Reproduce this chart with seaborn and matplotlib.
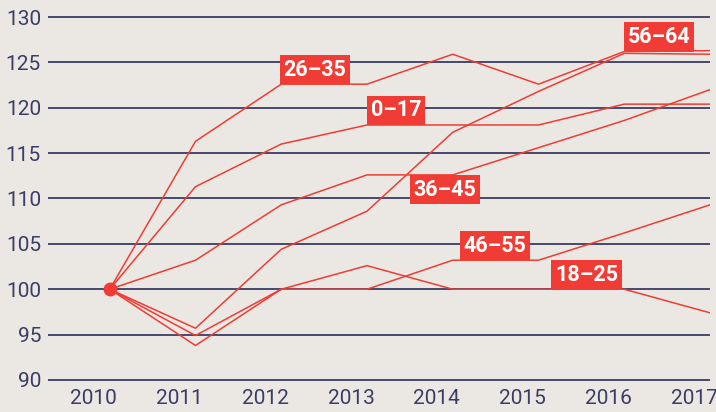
import numpy as np
import matplotlib
matplotlib.use("Agg")
import matplotlib.pyplot as plt
import matplotlib.transforms as mtransforms
import pandas as pd
import seaborn as sns

years = [2010, 2011, 2012, 2013, 2014, 2015, 2016, 2017]
g_0_17 = [100, 111.3, 116.0, 118.1, 118.1, 118.1, 120.4, 120.4]
g_18_25 = [100, 94.9, 100.0, 102.6, 100.0, 100.0, 100.0, 97.4]
g_26_35 = [100, 116.3, 122.6, 122.6, 125.9, 122.6, 126.2, 126.3]
g_36_45 = [100, 103.2, 109.3, 112.6, 112.6, 115.6, 118.6, 122.0]
g_46_55 = [100, 93.8, 100.0, 100.0, 103.2, 103.2, 106.2, 109.3]
g_56_64 = [100, 95.7, 104.4, 108.6, 117.3, 121.8, 126.0, 125.9]

groups = ["0–17", "18–25", "26–35", "36–45", "46–55", "56–64"]
series = [g_0_17, g_18_25, g_26_35, g_36_45, g_46_55, g_56_64]

# label anchor: (x, y, above line?)
label_x = [2013, 2015.15, 2011.98, 2013.5, 2014.08, 2016]
label_y = [118.1, 100.0, 122.6, 112.6, 103.2, 126.2]
label_above = [True, True, True, False, True, True]

rows = []
for name, vals in zip(groups, series):
    for yr, v in zip(years, vals):
        rows.append({"year": yr, "value": v, "group": name})
df = pd.DataFrame(rows)

red = "#f03c34"
navy = "#2b2e5a"
bg = "#ebe8e3"

sns.set_theme(style="white")
plt.rcParams["font.family"] = ["Roboto", "DejaVu Sans"]

fig = plt.figure(figsize=(7.16, 4.12), dpi=100, facecolor=bg)
ax = fig.add_axes([48 / 716, 1 - 384.5 / 412, (710 - 48) / 716, 372 / 412])
ax.set_facecolor(bg)

for yv in range(90, 131, 5):
    ax.axhline(yv, color=navy, lw=1.2, zorder=1)

sns.lineplot(data=df, x="year", y="value", hue="group",
             palette=[red] * len(groups), lw=1.1, legend=False, ax=ax, zorder=3)
ax.plot([years[0]], [series[0][0]], "o", color=red, ms=9, zorder=4)

fs = 15.5
pad = 0.17
for name, lx, ly, up in zip(groups, label_x, label_y, label_above):
    off = pad * fs
    ax.annotate(name, (lx, ly), xytext=(off, off if up else -off),
                textcoords="offset points",
                ha="left", va="bottom" if up else "top",
                color="white", fontsize=fs, fontweight="bold", zorder=5,
                bbox=dict(boxstyle=f"square,pad={pad}", fc=red, ec="none"))

ax.set_xlim(2009.28, 2017)
ax.set_ylim(89.5, 130.5)
ax.set_yticks(range(90, 131, 5))
ax.set_xticks(years)
ax.set_xlabel("")
ax.set_ylabel("")
for s in ax.spines.values():
    s.set_visible(False)
ax.tick_params(axis="both", length=0, labelsize=15, colors="#3a3d65")
ax.tick_params(axis="x", pad=3)
ax.tick_params(axis="y", pad=5)

# year labels sit a little left of the data points in the original
shift = mtransforms.ScaledTranslation(-16 / 100, 0, fig.dpi_scale_trans)
for t in ax.get_xticklabels():
    t.set_transform(t.get_transform() + shift)

fig.savefig("out.png", dpi=100, facecolor=bg)
